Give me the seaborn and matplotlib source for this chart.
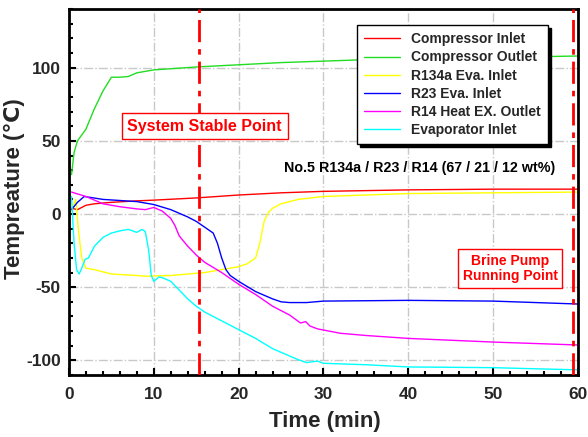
import matplotlib
matplotlib.use("Agg")
import matplotlib.pyplot as plt
import pandas as pd
import seaborn as sns
from matplotlib.ticker import MultipleLocator

# --- Data ---
series_names = [
    "Compressor Inlet",
    "Compressor Outlet",
    "R134a Eva. Inlet",
    "R23 Eva. Inlet",
    "R14 Heat EX. Outlet",
    "Evaporator Inlet",
]
series_colors = ["#ff0000", "#22dd22", "#ffff00", "#0000ff", "#ff00ff", "#00ffff"]

red_t = [0.3, 1.0, 2, 3, 5, 8, 10, 15, 20, 25, 30, 40, 50, 60]
red_v = [4, 3, 6, 7, 8, 9, 9.5, 11, 13, 14.5, 15.5, 16.5, 17, 17]

green_t = [0.3, 0.6, 1.0, 1.5, 2, 3, 4, 5, 6, 7, 8, 9, 10, 15, 20, 25, 30, 35, 40, 50, 60]
green_v = [27, 42, 50, 54, 58, 72, 84, 93.5, 93.5, 94, 96.5, 97.5, 98.5, 100.5, 102,
           103.5, 104.5, 105.5, 106, 107, 108]

yellow_t = [0.3, 0.8, 1.1, 1.5, 2, 3, 5, 8, 9, 12, 14, 16, 18, 20, 21, 22, 22.5, 23,
            23.5, 24, 25, 27, 30, 40, 50, 60]
yellow_v = [2, 10, -10, -30, -37, -38, -41, -42, -42.5, -42, -41, -40, -38, -36, -34, -30,
            -20, -5, 1, 4, 7, 10, 12, 14, 14.5, 15]

blue_t = [0.3, 1.0, 1.8, 4, 8, 10, 12, 14, 15, 16, 17, 17.5, 18, 18.5, 19, 20, 22, 24,
          25, 26, 28, 30, 40, 50, 55, 60]
blue_v = [3, 8, 12, 10, 8.5, 6.5, 3, -2, -5, -9, -13, -20, -30, -38, -42, -46, -53, -58,
          -60, -60.5, -60.5, -59.5, -59, -59.5, -60.5, -61.5]

magenta_t = [0.3, 2, 4, 6, 8, 9, 10, 11, 12, 12.5, 13, 14, 15, 16, 18, 20, 22, 23, 24,
             26, 27.3, 27.9, 28.4, 29.3, 32, 35, 40, 50, 60]
magenta_v = [15, 12, 7, 5, 3.5, 3, 4.5, 2, -3, -8, -15, -22, -28, -33, -40, -48, -55, -59,
             -63, -69, -74.5, -73.5, -76.5, -78.5, -81.5, -83, -85, -87.5, -89.5]

cyan_t = [0.3, 0.6, 0.9, 1.2, 1.5, 1.9, 2.3, 3, 4, 5, 6, 7, 8, 8.6, 9, 9.4, 9.7, 10, 10.6,
          11, 12, 13, 14, 15, 16, 18, 20, 22, 24, 26, 27, 28, 29.3, 30, 35, 40, 50, 60]
cyan_v = [12, -20, -38, -41, -37, -31, -30, -22, -16, -13, -11.5, -10.5, -12.5, -10.5, -12,
          -25, -42, -46, -43, -43.5, -46, -52, -58, -63, -67, -73, -79, -85, -92, -97,
          -99.5, -101.5, -100.5, -102, -103, -104.5, -105, -106.5]

stable_time = 15.35
brine_time = 59.4


def main() -> None:
    sns.set_theme(style="ticks")
    plt.rcParams["font.family"] = ["Liberation Sans", "DejaVu Sans"]
    plt.rcParams["font.weight"] = "bold"
    plt.rcParams["axes.unicode_minus"] = False

    # --- Long-form table for seaborn ---
    pairs = [(red_t, red_v), (green_t, green_v), (yellow_t, yellow_v),
             (blue_t, blue_v), (magenta_t, magenta_v), (cyan_t, cyan_v)]
    frames = []
    for name, (t, v) in zip(series_names, pairs):
        frames.append(pd.DataFrame({"time": t, "temp": v, "series": name}))
    df = pd.concat(frames, ignore_index=True)

    fig = plt.figure(figsize=(5.88, 4.37), dpi=100)
    ax = fig.add_axes([0.1173, 0.1419, 0.8657, 0.8371])

    sns.lineplot(data=df, x="time", y="temp", hue="series", hue_order=series_names,
                 palette=series_colors, estimator=None, sort=False, linewidth=1.0, ax=ax)

    # Event markers
    for xv in (stable_time, brine_time):
        ax.axvline(xv, color="#ff0000", linewidth=2, linestyle=(0, (8, 2.5, 2, 2.5)), zorder=3)

    ax.set_xlim(0, 60)
    ax.set_ylim(-110, 140)
    ax.xaxis.set_major_locator(MultipleLocator(10))
    ax.xaxis.set_minor_locator(MultipleLocator(2))
    ax.yaxis.set_major_locator(MultipleLocator(50))
    ax.yaxis.set_minor_locator(MultipleLocator(10))
    ax.tick_params(which="both", direction="in", color="black", labelsize=12.5, width=1.5)
    ax.tick_params(which="major", length=5)
    ax.tick_params(which="minor", length=3)
    ax.tick_params(axis="x", pad=9)
    ax.tick_params(axis="y", pad=6)
    for lab in ax.get_xticklabels() + ax.get_yticklabels():
        lab.set_fontweight("bold")
    ax.grid(True, which="major", color="#c8c8c8", linestyle="-.", linewidth=1)
    for sp in ax.spines.values():
        sp.set_linewidth(2)
        sp.set_color("black")

    ax.set_xlabel("Time (min)", fontsize=16, fontweight="bold")
    ax.set_ylabel("Tempreature (\u2103)", fontsize=16, fontweight="bold")
    ax.xaxis.set_label_coords(0.502, -0.098)
    ax.yaxis.set_label_coords(-0.087, 0.51)

    # Annotations
    ax.text(16.0, 60, "System Stable Point", color="#ff0000", fontsize=11.5, fontweight="bold",
            ha="center", va="center", zorder=5,
            bbox=dict(boxstyle="square,pad=0.35", facecolor="white", edgecolor="#ff0000", linewidth=1))
    ax.text(52.0, -37.5, "Brine Pump\nRunning Point", color="#ff0000", fontsize=10, fontweight="bold",
            ha="center", va="center", linespacing=1.1, zorder=5,
            bbox=dict(boxstyle="square,pad=0.35", facecolor="white", edgecolor="#ff0000", linewidth=1))
    ax.text(41.3, 31.5, "No.5 R134a / R23 / R14 (67 / 21 / 12 wt%)", color="black", fontsize=10.3,
            fontweight="bold", ha="center", va="center")

    leg = ax.legend(loc="upper right", bbox_to_anchor=(0.955, 0.975), fontsize=10, frameon=True,
                    fancybox=False, shadow={"color": "black", "alpha": 1}, edgecolor="black",
                    framealpha=1, handlelength=2.6, borderpad=0.5, labelspacing=0.3,
                    handletextpad=0.8, title=None)
    leg.get_frame().set_linewidth(1)
    for txt in leg.get_texts():
        txt.set_fontweight("bold")
    for line in leg.get_lines():
        line.set_linewidth(1)

    fig.savefig("out.png", dpi=100)
    plt.close(fig)


if __name__ == "__main__":
    main()
